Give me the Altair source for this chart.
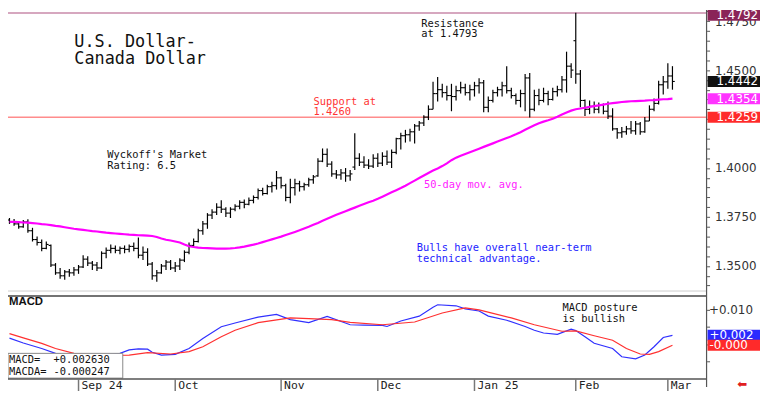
import math
import altair as alt
import pandas as pd

# ---------------- data ----------------
opens = [1.3735,1.3725,1.3715,1.3700,1.3725,1.3680,1.3635,1.3620,1.3590,1.3605,
         1.3505,1.3465,1.3450,1.3470,1.3465,1.3480,1.3495,1.3535,1.3515,1.3505,
         1.3490,1.3565,1.3580,1.3590,1.3580,1.3590,1.3585,1.3600,1.3590,1.3555,
         1.3570,1.3510,1.3450,1.3465,1.3500,1.3520,1.3490,1.3500,1.3530,1.3570,
         1.3605,1.3625,1.3680,1.3715,1.3760,1.3775,1.3800,1.3790,1.3770,1.3790,
         1.3805,1.3825,1.3815,1.3835,1.3850,1.3885,1.3870,1.3905,1.3910,1.3950,
         1.3910,1.3850,1.3900,1.3920,1.3905,1.3915,1.3940,1.3960,1.4035,1.4070,
         1.4020,1.3970,1.3965,1.3975,1.3960,1.4005,1.4050,1.4030,1.4015,1.4010,
         1.4050,1.4025,1.4060,1.4030,1.4080,1.4150,1.4165,1.4170,1.4185,1.4215,
         1.4230,1.4260,1.4300,1.4380,1.4400,1.4385,1.4370,1.4365,1.4395,1.4410,
         1.4385,1.4400,1.4420,1.4435,1.4310,1.4345,1.4385,1.4400,1.4420,1.4395,
         1.4370,1.4345,1.4380,1.4460,1.4300,1.4370,1.4345,1.4380,1.4350,1.4390,
         1.4400,1.4450,1.4520,1.4650,1.4480,1.4345,1.4300,1.4315,1.4300,1.4320,
         1.4290,1.4265,1.4200,1.4180,1.4185,1.4200,1.4190,1.4225,1.4185,1.4240,
         1.4300,1.4330,1.4425,1.4440,1.4470]
highs = [1.3745,1.3740,1.3730,1.3735,1.3738,1.3695,1.3650,1.3635,1.3625,1.3610,
         1.3515,1.3490,1.3480,1.3485,1.3495,1.3505,1.3555,1.3550,1.3525,1.3520,
         1.3575,1.3595,1.3610,1.3605,1.3600,1.3605,1.3610,1.3620,1.3645,1.3600,
         1.3590,1.3520,1.3480,1.3510,1.3530,1.3530,1.3520,1.3540,1.3580,1.3620,
         1.3640,1.3690,1.3730,1.3770,1.3790,1.3820,1.3835,1.3800,1.3800,1.3815,
         1.3835,1.3840,1.3850,1.3860,1.3895,1.3900,1.3915,1.3930,1.3985,1.3955,
         1.3920,1.3945,1.3945,1.3935,1.3925,1.3950,1.3965,1.4050,1.4100,1.4100,
         1.4035,1.3990,1.3995,1.4000,1.3990,1.4178,1.4075,1.4060,1.4045,1.4070,
         1.4075,1.4080,1.4090,1.4095,1.4155,1.4180,1.4195,1.4200,1.4225,1.4240,
         1.4270,1.4320,1.4440,1.4465,1.4430,1.4420,1.4430,1.4420,1.4440,1.4430,
         1.4425,1.4440,1.4458,1.4450,1.4365,1.4400,1.4415,1.4440,1.4520,1.4410,
         1.4380,1.4400,1.4480,1.4485,1.4400,1.4405,1.4410,1.4395,1.4410,1.4420,
         1.4470,1.4594,1.4535,1.4793,1.4500,1.4350,1.4345,1.4340,1.4335,1.4330,
         1.4340,1.4305,1.4205,1.4210,1.4215,1.4240,1.4240,1.4235,1.4260,1.4320,
         1.4355,1.4445,1.4470,1.4535,1.4520]
lows = [1.3715,1.3705,1.3690,1.3695,1.3670,1.3625,1.3605,1.3575,1.3585,1.3495,
        1.3455,1.3435,1.3430,1.3445,1.3450,1.3460,1.3490,1.3500,1.3480,1.3475,
        1.3485,1.3540,1.3565,1.3565,1.3560,1.3565,1.3570,1.3575,1.3540,1.3530,
        1.3500,1.3430,1.3420,1.3460,1.3480,1.3480,1.3470,1.3480,1.3520,1.3560,
        1.3595,1.3620,1.3660,1.3690,1.3740,1.3760,1.3770,1.3750,1.3745,1.3780,
        1.3790,1.3795,1.3810,1.3820,1.3840,1.3860,1.3865,1.3875,1.3890,1.3895,
        1.3830,1.3820,1.3860,1.3880,1.3885,1.3905,1.3920,1.3955,1.4030,1.4005,
        1.3955,1.3945,1.3940,1.3930,1.3935,1.3990,1.4010,1.4000,1.3995,1.4000,
        1.4005,1.4010,1.4015,1.4000,1.4070,1.4095,1.4130,1.4135,1.4125,1.4190,
        1.4215,1.4245,1.4300,1.4340,1.4360,1.4345,1.4290,1.4345,1.4380,1.4370,
        1.4345,1.4365,1.4380,1.4285,1.4285,1.4335,1.4365,1.4365,1.4380,1.4355,
        1.4325,1.4310,1.4290,1.4258,1.4290,1.4320,1.4335,1.4320,1.4345,1.4365,
        1.4385,1.4385,1.4460,1.4430,1.4310,1.4266,1.4275,1.4280,1.4280,1.4275,
        1.4250,1.4190,1.4150,1.4155,1.4170,1.4175,1.4170,1.4170,1.4180,1.4240,
        1.4290,1.4325,1.4375,1.4405,1.4400]
closes = [1.3725,1.3715,1.3700,1.3725,1.3680,1.3635,1.3620,1.3590,1.3610,1.3505,
          1.3465,1.3450,1.3470,1.3465,1.3480,1.3495,1.3535,1.3515,1.3505,1.3490,
          1.3565,1.3580,1.3590,1.3580,1.3590,1.3585,1.3600,1.3590,1.3555,1.3570,
          1.3510,1.3450,1.3465,1.3500,1.3520,1.3490,1.3500,1.3530,1.3570,1.3605,
          1.3625,1.3680,1.3715,1.3760,1.3775,1.3800,1.3790,1.3770,1.3790,1.3805,
          1.3825,1.3815,1.3835,1.3850,1.3885,1.3870,1.3905,1.3910,1.3950,1.3910,
          1.3850,1.3900,1.3920,1.3905,1.3915,1.3940,1.3955,1.4035,1.4070,1.4020,
          1.3970,1.3965,1.3975,1.3960,1.3970,1.4050,1.4030,1.4015,1.4010,1.4050,
          1.4025,1.4060,1.4030,1.4080,1.4150,1.4165,1.4170,1.4185,1.4215,1.4230,
          1.4260,1.4300,1.4380,1.4400,1.4385,1.4370,1.4365,1.4395,1.4410,1.4385,
          1.4400,1.4420,1.4435,1.4310,1.4345,1.4385,1.4400,1.4420,1.4395,1.4370,
          1.4345,1.4380,1.4460,1.4300,1.4370,1.4345,1.4380,1.4350,1.4390,1.4400,
          1.4450,1.4520,1.4500,1.4480,1.4345,1.4300,1.4315,1.4300,1.4320,1.4290,
          1.4265,1.4200,1.4180,1.4185,1.4200,1.4190,1.4225,1.4185,1.4240,1.4300,
          1.4330,1.4425,1.4440,1.4470,1.4442]
ma50 = [1.3726,1.3725,1.3724,1.3722,1.3721,1.3719,1.3717,1.3714,1.3712,1.3709,
        1.3705,1.3702,1.3698,1.3694,1.3690,1.3687,1.3684,1.3681,1.3678,1.3676,
        1.3673,1.3670,1.3668,1.3666,1.3664,1.3662,1.3660,1.3659,1.3657,1.3656,
        1.3655,1.3653,1.3648,1.3640,1.3634,1.3630,1.3625,1.3620,1.3610,
        1.3601,1.3597,1.3594,1.3592,1.3591,1.3590,1.3589,1.3589,1.3589,1.3590,
        1.3592,1.3595,1.3599,1.3604,1.3609,1.3615,1.3622,1.3629,1.3636,1.3643,
        1.3650,1.3658,1.3666,1.3674,1.3682,1.3691,1.3700,1.3710,1.3720,1.3731,
        1.3741,1.3751,1.3761,1.3771,1.3780,1.3789,1.3798,1.3807,1.3816,1.3825,
        1.3833,1.3843,1.3854,1.3865,1.3876,1.3887,1.3898,1.3910,1.3923,1.3936,
        1.3949,1.3962,1.3975,1.3987,1.3998,1.4010,1.4024,1.4040,1.4053,
        1.4063,1.4072,1.4081,1.4090,1.4099,1.4108,1.4117,1.4126,1.4135,1.4144,
        1.4153,1.4162,1.4172,1.4183,1.4195,1.4207,1.4218,1.4229,1.4237,1.4244,
        1.4252,1.4262,1.4273,1.4284,1.4293,1.4300,1.4304,1.4308,1.4312,1.4316,
        1.4320,1.4324,1.4328,1.4331,1.4334,1.4337,1.4339,1.4341,1.4342,1.4343,
        1.4344,1.4346,1.4347,1.4349,1.4351,1.4352,1.4354]

macd_idx = [0,3,7,10,13,17,21,24,26,28,30,31,33,36,39,42,46,49,54,58,61,65,69,74,77,
            81,82,85,89,92,93,97,99,102,104,108,112,114,116,119,122,123,125,127,131,
            133,136,138,140,142,144]
macd_vals = [0.0018,0.0004,-0.0012,-0.0026,-0.0033,-0.0034,-0.0030,-0.0026,-0.0016,-0.0013,
             -0.0014,-0.0023,-0.0031,-0.0029,-0.0012,0.0017,0.0051,0.0062,0.0079,0.0087,
             0.0072,0.0063,0.0081,0.0057,0.0056,0.0055,0.0052,0.0068,0.0082,0.0108,
             0.0115,0.0112,0.0103,0.0097,0.0082,0.0070,0.0052,0.0041,0.0033,0.0029,
             0.0044,0.0040,0.0022,0.0003,-0.0012,-0.0036,-0.0042,-0.0031,-0.0007,0.0020,
             0.002630]
signal_idx = [0,3,7,10,14,20,26,30,35,39,42,46,49,54,61,65,70,74,81,88,94,99,102,109,
              114,120,123,127,131,134,137,139,141,144]
signal_vals = [0.0031,0.0019,0.0003,-0.0012,-0.0026,-0.0032,-0.0031,-0.0024,-0.0028,-0.0021,
               -0.0007,0.0022,0.0041,0.0063,0.0077,0.0075,0.0072,0.0064,0.0057,0.0065,
               0.0091,0.0106,0.0100,0.0077,0.0057,0.0038,0.0039,0.0025,0.0012,-0.0012,
               -0.0028,-0.0029,-0.0021,-0.000247]

month_labels = ["Sep 24", "Oct", "Nov", "Dec", "Jan 25", "Feb", "Mar"]
month_idx = [15, 36, 59, 80, 101, 123, 143]

resistance = 1.4792
support = 1.4259
last_close = 1.4442
last_ma = 1.4354
macd_last = 0.002630
macda_last = -0.000247

assert len(opens) == len(highs) == len(lows) == len(closes) == len(ma50)
assert len(macd_idx) == len(macd_vals) and len(signal_idx) == len(signal_vals)


def trunc3(v):
    t = math.trunc(v * 1000) / 1000
    s = f"{abs(t):.3f}"
    return ("+" if v >= 0 else "-") + s


# ---------------- tables ----------------
n = len(closes)
bars = pd.DataFrame({"j": list(range(n)), "open": opens, "high": highs,
                     "low": lows, "close": closes, "ma": ma50})
macd_df = pd.DataFrame({"j": macd_idx, "v": macd_vals})
sig_df = pd.DataFrame({"j": signal_idx, "v": signal_vals})
months = pd.DataFrame({"j": month_idx, "label": month_labels})

top_box = pd.DataFrame({"v": [resistance], "label": [f"{resistance:.4f}"], "fill": ["#8a2458"]})
price_boxes = pd.DataFrame({
    "v": [last_close, last_ma, support],
    "label": [f"{last_close:.4f}", f"{last_ma:.4f}", f"{support:.4f}"],
    "fill": ["#111111", "#ff33ff", "#ff2a2a"],
})
macd_boxes = pd.DataFrame({
    "v": [macd_last, macda_last],
    "label": [trunc3(macd_last), trunc3(macda_last)],
    "fill": ["#2a2aff", "#ff2a2a"],
})
levels = pd.DataFrame({"v": [resistance, support], "c": ["#c98aaa", "#ff8c8c"]})

notes = pd.DataFrame([
    ("Resistance", 89.45, 1.47359, "#111111"),
    ("at 1.4793", 89.45, 1.46828, "#111111"),
    ("Wyckoff's Market", 21.23, 1.40641, "#111111"),
    ("Rating: 6.5", 21.23, 1.40111, "#111111"),
    ("Support at", 66.02, 1.43354, "#ff3333"),
    ("1.4260", 66.02, 1.42848, "#ff3333"),
    ("50-day mov. avg.", 90.01, 1.39152, "#ff22ff"),
    ("Bulls have overall near-term", 88.44, 1.35894, "#2222ff"),
    ("technical advantage.", 88.44, 1.35338, "#2222ff"),
], columns=["text", "j", "v", "c"])
title_df = pd.DataFrame([("U.S. Dollar-", 14.08, 1.46449), ("Canada Dollar", 14.08, 1.45566)],
                        columns=["text", "j", "v"])
macd_notes = pd.DataFrame([("MACD posture", 120.1, 0.01046), ("is bullish", 120.1, 0.00744)],
                          columns=["text", "j", "v"])
legend_df = pd.DataFrame({"name": ["MACD=", "MACDA="],
                          "val": [f"{macd_last:+.6f}", f"{macda_last:+.6f}"],
                          "row": [0, 1]})
one = pd.DataFrame({"a": [0]})

# ---------------- scales ----------------
W, H = 706, 373
MAIN_BOTTOM, MACD_TOP = 284, 289
xs = alt.Scale(domain=[-0.32, 151.41], range=[0, W], nice=False, zero=False)
PY = alt.Scale(domain=[1.33722, 1.48066], range=[MAIN_BOTTOM, 0], nice=False, zero=False)
MY = alt.Scale(domain=[-0.01009, 0.01405], range=[H, MACD_TOP], nice=False, zero=False)
LY = alt.Scale(domain=[0, 1], range=[354, 365.5], nice=False, zero=False)

MONO = "DejaVu Sans Mono"
SANS = "Liberation Sans"
AXF = "DejaVu Sans"
AXS = 12

price_tick_values = [round(1.340 + 0.005 * k, 3) for k in range(29)]
price_axis = alt.Axis(
    orient="right", values=price_tick_values, title=None, grid=False, domain=False,
    labelExpr="indexof(['1.3500','1.3750','1.4000','1.4500','1.4750'], format(datum.value, '.4f')) >= 0 ? format(datum.value, '.4f') : ''",
    tickSize=3, tickColor="#555", labelFont=AXF, labelFontSize=AXS, labelColor="#333",
    labelPadding=5,
)
macd_axis = alt.Axis(
    orient="right", values=[-0.005, 0.0, 0.005, 0.01], title=None, grid=False, domain=False,
    labelExpr="datum.value > 0.009 ? '+0.010' : ''",
    tickSize=3, tickColor="#555", labelFont=AXF, labelFontSize=AXS, labelColor="#333",
    labelPadding=-1,
)


def X(f):
    return alt.X(f, scale=xs, axis=None)


# ---------------- layers ----------------
base = alt.Chart(bars)
hl = base.mark_rule(color="black", strokeWidth=1.2).encode(
    x=X("j:Q"), y=alt.Y("low:Q", scale=PY, axis=price_axis), y2="high:Q")
op = base.transform_calculate(jo="datum.j - 0.5").mark_rule(color="black", strokeWidth=1.1).encode(
    x=X("jo:Q"), x2="j:Q", y=alt.Y("open:Q", scale=PY, axis=None))
cl = base.transform_calculate(jc="datum.j + 0.5").mark_rule(color="black", strokeWidth=1.1).encode(
    x=X("j:Q"), x2="jc:Q", y=alt.Y("close:Q", scale=PY, axis=None))
ma_line = base.mark_line(color="#ff00ff", strokeWidth=2.2).encode(
    x=X("j:Q"), y=alt.Y("ma:Q", scale=PY, axis=None))

lvl = alt.Chart(levels).mark_rule(strokeWidth=1.5).encode(
    y=alt.Y("v:Q", scale=PY, axis=None), color=alt.Color("c:N", scale=None))

title_txt = alt.Chart(title_df).mark_text(align="left", baseline="middle", font=MONO,
                                          fontSize=17, color="#111").encode(
    x=X("j:Q"), y=alt.Y("v:Q", scale=PY, axis=None), text="text:N")
note_txt = alt.Chart(notes).mark_text(align="left", baseline="middle", font=MONO,
                                      fontSize=10.5).encode(
    x=X("j:Q"), y=alt.Y("v:Q", scale=PY, axis=None), text="text:N",
    color=alt.Color("c:N", scale=None))

tbox = alt.Chart(top_box).mark_rect(yOffset=-3, y2Offset=8).encode(
    x=alt.value(707), x2=alt.value(760), y=alt.Y("v:Q", scale=PY, axis=None), y2="v:Q",
    color=alt.Color("fill:N", scale=None))
tbox_txt = alt.Chart(top_box).mark_text(align="right", baseline="middle", dy=2.5, font=AXF,
                                        fontSize=AXS, color="white").encode(
    x=alt.value(758), y=alt.Y("v:Q", scale=PY, axis=None), text="label:N")
pbox = alt.Chart(price_boxes).mark_rect(yOffset=-5.5, y2Offset=5.5).encode(
    x=alt.value(707), x2=alt.value(760), y=alt.Y("v:Q", scale=PY, axis=None), y2="v:Q",
    color=alt.Color("fill:N", scale=None))
pbox_txt = alt.Chart(price_boxes).mark_text(align="right", baseline="middle", font=AXF,
                                            fontSize=AXS, color="white").encode(
    x=alt.value(758), y=alt.Y("v:Q", scale=PY, axis=None), text="label:N")

# MACD panel
macd_line = alt.Chart(macd_df).mark_line(color="#3030ff", strokeWidth=1.2).encode(
    x=X("j:Q"), y=alt.Y("v:Q", scale=MY, axis=macd_axis))
sig_line = alt.Chart(sig_df).mark_line(color="#ff3030", strokeWidth=1.2).encode(
    x=X("j:Q"), y=alt.Y("v:Q", scale=MY, axis=None))
macd_note_txt = alt.Chart(macd_notes).mark_text(align="left", baseline="middle", font=MONO,
                                                fontSize=10.5, color="#111").encode(
    x=X("j:Q"), y=alt.Y("v:Q", scale=MY, axis=None), text="text:N")
mbox = alt.Chart(macd_boxes).mark_rect(yOffset=-5.5, y2Offset=5.5).encode(
    x=alt.value(707), x2=alt.value(760), y=alt.Y("v:Q", scale=MY, axis=None), y2="v:Q",
    color=alt.Color("fill:N", scale=None))
mbox_txt = alt.Chart(macd_boxes).mark_text(align="left", baseline="middle", font=AXF,
                                           fontSize=AXS, color="white").encode(
    x=alt.value(709), y=alt.Y("v:Q", scale=MY, axis=None), text="label:N")

# frame lines
main_bottom = alt.Chart(one).mark_rule(color="#cccccc", strokeWidth=1).encode(
    x=alt.value(0), x2=alt.value(W), y=alt.value(MAIN_BOTTOM))
macd_top = alt.Chart(one).mark_rule(color="#444444", strokeWidth=1.5).encode(
    x=alt.value(0), x2=alt.value(W), y=alt.value(MACD_TOP))
bottom_line = alt.Chart(one).mark_rule(color="#555555", strokeWidth=1.5).encode(
    x=alt.value(0), x2=alt.value(W), y=alt.value(H))
right_line = alt.Chart(one).mark_rule(color="#555555", strokeWidth=1.2).encode(
    x=alt.value(W), y=alt.value(0), y2=alt.value(381))

macd_title = alt.Chart(one).mark_text(text="MACD", align="left", baseline="middle", font=SANS,
                                      fontSize=11.5, fontWeight="bold", color="#111").encode(
    x=alt.value(1), y=alt.value(295))

legend_box = alt.Chart(one).mark_rect(fill="white", stroke="#888888", strokeWidth=1).encode(
    x=alt.value(0), x2=alt.value(116), y=alt.value(347), y2=alt.value(372))
legend_name = alt.Chart(legend_df).mark_text(align="left", baseline="middle", font=MONO,
                                             fontSize=10.5, color="#111").encode(
    x=alt.value(1), y=alt.Y("row:Q", scale=LY, axis=None), text="name:N")
legend_val = alt.Chart(legend_df).mark_text(align="left", baseline="middle", font=MONO,
                                            fontSize=10.5, color="#111").encode(
    x=alt.value(46), y=alt.Y("row:Q", scale=LY, axis=None), text="val:N")

# date axis
mtick = alt.Chart(months).mark_rule(color="#777777", strokeWidth=1.5).encode(
    x=X("j:Q"), y=alt.value(H), y2=alt.value(385))
mlab = alt.Chart(months).mark_text(align="left", baseline="middle", dx=3, font=MONO,
                                   fontSize=11.5, color="#222").encode(
    x=X("j:Q"), y=alt.value(379.5), text="label:N")

arrow = alt.Chart(one).mark_text(text="\u2b05", font="DejaVu Sans", fontSize=12,
                                 color="#e02020", baseline="middle").encode(
    x=alt.value(742), y=alt.value(378))

chart = alt.layer(
    main_bottom, lvl, hl, op, cl, ma_line, title_txt, note_txt,
    macd_line, sig_line, macd_note_txt, legend_box, legend_name, legend_val,
    macd_top, bottom_line, right_line, tbox, tbox_txt, pbox, pbox_txt, mbox, mbox_txt,
    macd_title, mtick, mlab, arrow,
).resolve_scale(y="independent").properties(
    width=W, height=H,
    autosize=alt.AutoSizeParams(type="none"),
    padding={"left": 0, "top": 0, "right": 54, "bottom": 12},
    background="white",
).configure_view(stroke=None)

chart.save("out.html", embed_options={"renderer": "svg", "actions": False})
